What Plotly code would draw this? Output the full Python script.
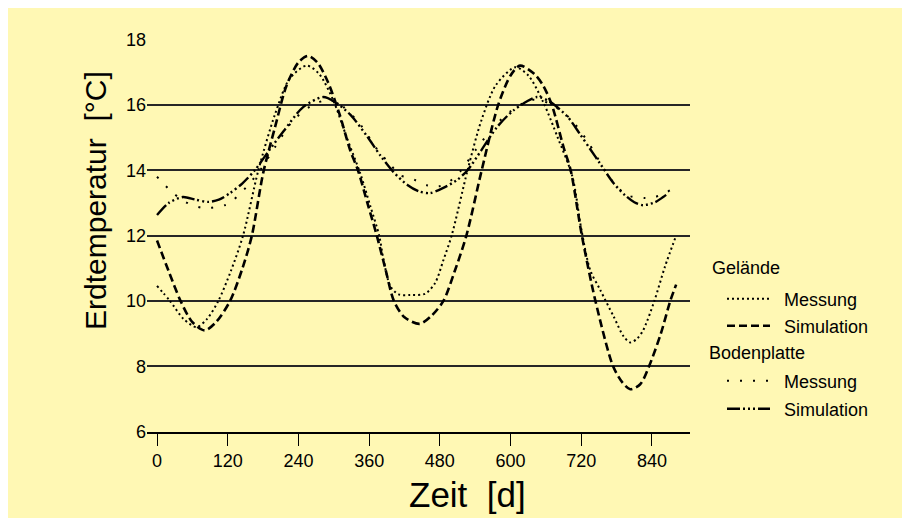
import plotly.graph_objects as go

# ---------------- data ----------------
gel_sim_day = [0, 20, 40, 60, 81, 100, 124, 145, 161, 180, 200, 220, 240, 256, 272, 290, 310,
               328, 341, 357, 373, 388, 402, 420, 446, 466, 486, 505, 525, 551, 579, 600, 616,
               640, 655, 670, 690, 702, 721, 744, 774, 790, 803, 820, 835, 855, 871, 881]
gel_sim_temp = [11.85, 10.9, 10.0, 9.35, 9.1, 9.35, 10.0, 11.0, 12.0, 13.9, 15.3, 16.6, 17.3, 17.5,
                17.3, 16.7, 15.7, 14.6, 14.0, 13.0, 12.0, 10.95, 10.0, 9.5, 9.3, 9.55, 10.0, 10.9,
                12.0, 14.0, 16.0, 16.9, 17.2, 16.95, 16.6, 16.0, 14.7, 14.0, 12.0, 10.0, 8.0, 7.5,
                7.3, 7.45, 8.0, 9.0, 10.0, 10.5]

gel_mes_day = [0, 22, 45, 67, 85, 104, 125, 146, 172, 200, 225, 254, 275, 300, 322, 345, 362, 377,
               384, 396, 410, 430, 455, 472, 486, 500, 527, 550, 575, 608, 630, 655, 680, 705, 720,
               735, 752, 775, 792, 803, 815, 825, 844, 862, 881]
gel_mes_temp = [10.46, 10.0, 9.45, 9.2, 9.45, 10.0, 10.9, 12.0, 14.0, 15.7, 16.8, 17.2, 16.95, 16.1,
                15.0, 13.9, 12.9, 12.0, 11.3, 10.45, 10.2, 10.18, 10.22, 10.55, 11.25, 12.0, 14.0,
                15.5, 16.6, 17.15, 16.9, 16.1, 15.0, 13.8, 12.2, 10.95, 10.34, 9.52, 8.91, 8.73,
                8.85, 9.1, 10.0, 11.05, 12.0]

bod_sim_day = [0, 20, 44, 65, 87, 105, 124, 145, 166, 190, 215, 248, 282, 302, 328, 356, 379, 401,
               425, 445, 463, 485, 509, 527, 550, 577, 605, 645, 667, 696, 718, 735, 752, 775, 794,
               810, 825, 845, 859, 868]
bod_sim_temp = [12.63, 13.0, 13.18, 13.1, 13.03, 13.1, 13.3, 13.6, 14.0, 14.6, 15.2, 15.93, 16.24,
                16.09, 15.7, 15.05, 14.45, 13.95, 13.55, 13.35, 13.3, 13.45, 13.7, 14.0, 14.6, 15.32,
                15.83, 16.24, 16.09, 15.65, 15.1, 14.65, 14.2, 13.6, 13.24, 13.02, 12.93, 13.02,
                13.18, 13.3]

bod_mes_day = [0, 25, 48, 79, 115, 129, 152, 175, 200, 230, 260, 290, 315, 345, 375, 395, 412, 430,
               458, 477, 495, 514, 540, 570, 600, 635, 665, 700, 730, 760, 774, 797, 828, 845, 862, 881]
bod_mes_temp = [13.8, 13.34, 13.03, 12.84, 12.93, 13.08, 13.49, 14.0, 14.7, 15.5, 15.95, 16.15,
                15.95, 15.4, 14.6, 14.2, 13.85, 13.76, 13.54, 13.5, 13.64, 13.95, 14.6, 15.3, 15.8,
                16.15, 16.05, 15.6, 14.9, 14.0, 13.64, 13.24, 13.15, 13.18, 13.3, 13.5]

x_ticks = [0, 120, 240, 360, 480, 600, 720, 840]
y_ticks = [6, 8, 10, 12, 14, 16, 18]

group_titles = ["Gelände", "Bodenplatte"]
series_names = ["Messung", "Simulation"]

# ---------------- figure ----------------
FONT = "Liberation Sans, Arial, sans-serif"
BG = "#FFF8B4"
SP = "\u2002"  # small gap between legend sample and label

fig = go.Figure()

def add(x, y, dash, width, legend):
    fig.add_trace(go.Scatter(
        x=x, y=y, mode="lines",
        line=dict(color="black", width=width, dash=dash, shape="spline", smoothing=0.8),
        name=SP + legend[1], legend=legend[0], showlegend=True, hoverinfo="skip"))

add(gel_mes_day, gel_mes_temp, "2px,3px", 2.0, ("legend", series_names[0]))
add(gel_sim_day, gel_sim_temp, "8px,4px", 2.6, ("legend2", series_names[1]))
add(bod_mes_day, bod_mes_temp, "2px,11px", 2.0, ("legend3", series_names[0]))
add(bod_sim_day, bod_sim_temp, "13px,3px,2px,3px,2px,3px,2px,3px", 2.4, ("legend4", series_names[1]))

def py(page_y):
    return (432 - page_y) / 393.0

def px(page_x):
    return (page_x - 147) / 543.0

leg_common = dict(xanchor="left", yanchor="middle", bgcolor="rgba(0,0,0,0)",
                  font=dict(family=FONT, size=18, color="black"), itemwidth=43,
                  borderwidth=0, tracegroupgap=0)
fig.update_layout(
    legend=dict(x=px(722), y=py(299), **leg_common),
    legend2=dict(x=px(722), y=py(326), **leg_common),
    legend3=dict(x=px(722), y=py(381), **leg_common),
    legend4=dict(x=px(722), y=py(409), **leg_common),
)

annotations = [
    dict(text=group_titles[0], x=px(710), y=py(268), xref="paper", yref="paper",
         xanchor="left", yanchor="middle", showarrow=False,
         font=dict(family=FONT, size=18, color="black")),
    dict(text=group_titles[1], x=px(707), y=py(353), xref="paper", yref="paper",
         xanchor="left", yanchor="middle", showarrow=False,
         font=dict(family=FONT, size=18, color="black")),
    dict(text="Zeit  [d]", x=px(467), y=py(494), xref="paper", yref="paper",
         xanchor="center", yanchor="middle", showarrow=False,
         font=dict(family=FONT, size=35, color="black")),
    dict(text="Erdtemperatur  [°C]", x=px(95), y=py(201), xref="paper", yref="paper",
         xanchor="center", yanchor="middle", showarrow=False, textangle=-90,
         font=dict(family=FONT, size=30, color="black")),
]

fig.update_layout(
    width=910, height=518, autosize=False,
    margin=dict(l=139, r=228, t=31, b=94, pad=0),
    paper_bgcolor=BG, plot_bgcolor=BG,
    font=dict(family=FONT, size=18, color="black"),
    annotations=annotations,
    xaxis=dict(range=[-17, 904.5], tickvals=x_ticks, ticktext=[str(v) for v in x_ticks],
               showgrid=False, zeroline=False, showline=True, linecolor="black", linewidth=1.5,
               ticks="outside", ticklen=12, tickwidth=1.4, tickcolor="black",
               tickfont=dict(family=FONT, size=18, color="black")),
    yaxis=dict(range=[5.99, 18.015], tickvals=y_ticks, ticktext=[str(v) for v in y_ticks],
               showgrid=True, gridcolor="#262626", gridwidth=1.5, zeroline=False,
               showline=False, ticks="", tickfont=dict(family=FONT, size=18, color="black")),
)

fig.write_html("out.html")
